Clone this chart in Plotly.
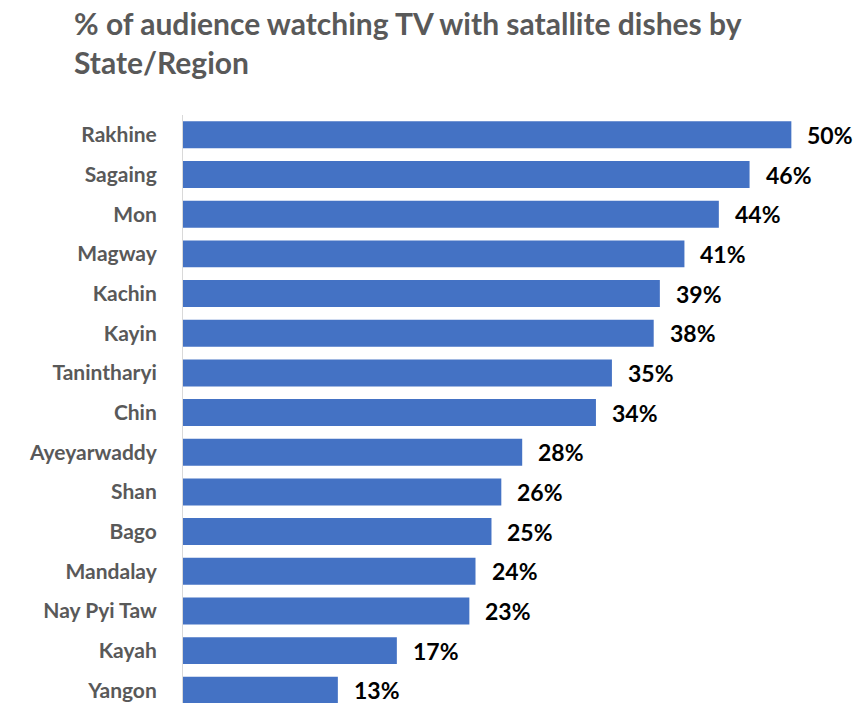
import plotly.graph_objects as go

regions = ["Rakhine", "Sagaing", "Mon", "Magway", "Kachin", "Kayin", "Tanintharyi",
           "Chin", "Ayeyarwaddy", "Shan", "Bago", "Mandalay", "Nay Pyi Taw", "Kayah", "Yangon"]
values = [49.5, 46.1, 43.6, 40.8, 38.8, 38.3, 34.9, 33.6, 27.6, 25.9, 25.1, 23.8, 23.3, 17.4, 12.6]
labels = ["50%", "46%", "44%", "41%", "39%", "38%", "35%", "34%", "28%", "26%",
          "25%", "24%", "23%", "17%", "13%"]

# bottom-up order for plotly
cats = regions[::-1]
vals = values[::-1]
labs = labels[::-1]

FONT = "Lato"

fig = go.Figure()
fig.add_trace(go.Bar(
    x=vals, y=cats, orientation="h",
    marker=dict(color="#4472C4", line=dict(width=0)),
    hoverinfo="skip",
))

annotations = [
    dict(x=v, y=c, text=t, xref="x", yref="y", xanchor="left", yanchor="middle",
         xshift=14, showarrow=False,
         font=dict(family=FONT, size=23, color="#000000", weight="bold"))
    for v, c, t in zip(vals, cats, labs)
]

fig.update_layout(
    width=857, height=703,
    margin=dict(l=183, r=0, t=115, b=0),
    paper_bgcolor="white", plot_bgcolor="white",
    bargap=0.32,
    showlegend=False,
    title=dict(
        text="% of audience watching TV with satallite dishes by<br>State/Region",
        x=74/857, xanchor="left", xref="container",
        y=1 - 35/703, yanchor="top", yref="container",
        font=dict(family=FONT, size=30, color="#595959", weight="bold"),
    ),
    annotations=annotations,
    xaxis=dict(range=[0, 674/12.29], showgrid=False, zeroline=False,
               showticklabels=False, showline=False, fixedrange=True),
    yaxis=dict(categoryorder="array", categoryarray=cats,
               range=[-0.32, 14.5], showgrid=False, zeroline=False,
               showline=True, linecolor="#D9D9D9", linewidth=1,
               ticks="", ticklabelstandoff=21,
               tickfont=dict(family=FONT, size=21, color="#595959", weight="bold")),
)

fig.write_html("out.html")
